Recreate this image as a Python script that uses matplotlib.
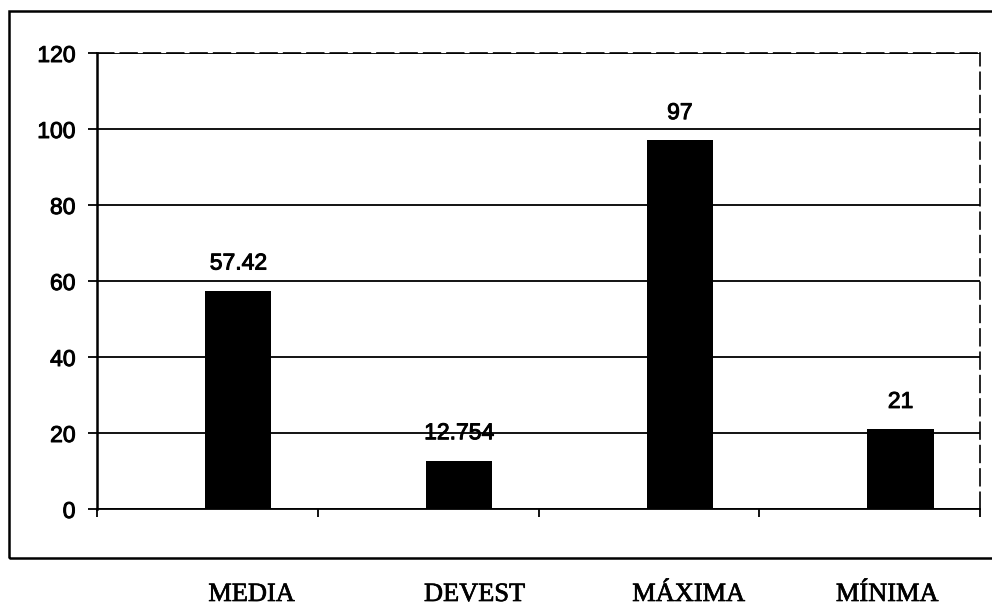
import matplotlib.pyplot as plt
import matplotlib.patheffects as pe
from matplotlib.patches import Rectangle
from matplotlib.transforms import blended_transform_factory

# Estadisticos de la serie
categorias = ["MEDIA", "DEVEST", "MÁXIMA", "MÍNIMA"]
valores = [57.42, 12.754, 97, 21]
etiquetas = ["57.42", "12.754", "97", "21"]

# trazo extra para engrosar un poco el texto
grueso = [pe.withStroke(linewidth=0.7, foreground="black")]

fig = plt.figure(figsize=(9.92, 6.08), dpi=100)
ax = fig.add_axes([97 / 992, 99 / 608, 883 / 992, 456 / 608])

# barras desplazadas a la derecha dentro de cada categoria
x = [i + 0.14 for i in range(len(valores))]
ax.bar(x, valores, width=0.30, color="black", zorder=3)

for xi, v, txt in zip(x, valores, etiquetas):
    ax.annotate(txt, (xi, v), xytext=(0, 20), textcoords="offset points",
                ha="center", va="center", fontsize=16.5,
                family="Liberation Sans", zorder=4, path_effects=grueso)

ax.set_xlim(-0.5, 3.5)
ax.set_ylim(0, 120)
ax.set_yticks(range(0, 121, 20))
ax.yaxis.grid(True, color="black", linewidth=1.3)
ax.set_axisbelow(True)

ax.set_xticks([-0.5, 0.5, 1.5, 2.5, 3.5])
ax.set_xticklabels([])
ax.tick_params(axis="x", direction="out", length=6, width=1.3, color="black")
ax.tick_params(axis="y", direction="out", length=6.5, width=1.3, pad=9,
               labelsize=16.5)
for lab in ax.get_yticklabels():
    lab.set_family("Liberation Sans")
    lab.set_path_effects(grueso)

ax.spines["left"].set_linewidth(1.8)
ax.spines["bottom"].set_linewidth(1.3)
for s in ("top", "right"):
    ax.spines[s].set_linestyle((0, (10, 4)))
    ax.spines[s].set_linewidth(1.2)

# nombres de categoria bajo el recuadro exterior
pos_nombres = [0.20, 1.21, 2.18, 3.08]
trans = blended_transform_factory(ax.transData, fig.transFigure)
for px, nombre in zip(pos_nombres, categorias):
    ax.text(px, 13 / 608, nombre, transform=trans, ha="center", va="center",
            fontsize=19, family="Liberation Serif", clip_on=False,
            path_effects=[pe.withStroke(linewidth=0.5, foreground="black")])

# recuadro exterior del grafico
fig.patches.append(Rectangle((9 / 992, 50 / 608), 1.0, 547 / 608,
                             transform=fig.transFigure, fill=False,
                             edgecolor="black", linewidth=1.8))

fig.savefig("out.png", dpi=100)
